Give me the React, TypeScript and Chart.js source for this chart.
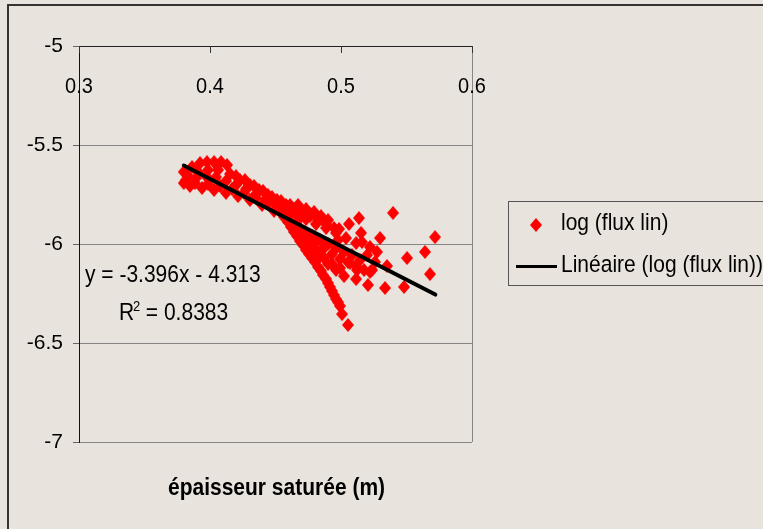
import React, { useEffect, useRef } from "react";
import { Chart, registerables } from "chart.js";

Chart.register(...registerables);

// ---- data ----
const fluxX = [
  // upper edge of the band
  0.380, 0.3863, 0.3924, 0.3977, 0.4031, 0.4084, 0.4130, 0.4198, 0.4267, 0.4336,
  0.4405, 0.4473, 0.4542, 0.4611, 0.4672, 0.4733, 0.4794, 0.4847, 0.4901,
  // second row of the band
  0.3832, 0.3908, 0.3985, 0.4061, 0.4153, 0.4229, 0.4305, 0.4374, 0.4443, 0.4511,
  0.4580, 0.4641, 0.4702, 0.4763, 0.4824, 0.4886, 0.4947,
  // middle of the band
  0.3817, 0.3893, 0.3969, 0.4046, 0.4122, 0.4198, 0.4275, 0.4351, 0.4427, 0.4504,
  0.4580, 0.4656, 0.4733, 0.4809, 0.4886, 0.4962, 0.5038, 0.5115,
  // fourth row of the band
  0.3885, 0.3985, 0.4076, 0.4168, 0.4260, 0.4351, 0.4443, 0.4527, 0.4611, 0.4672,
  // lower edge of the band
  0.380, 0.3847, 0.3939, 0.4031, 0.4122, 0.4214, 0.4305, 0.4397, 0.4489, 0.4565,
  // steep lower branch
  0.4595, 0.4641, 0.4687, 0.4733, 0.4779, 0.4824, 0.4863, 0.4901, 0.4931, 0.4962,
  0.4992, 0.5008, 0.5053,
  0.4618, 0.4664, 0.4710, 0.4756, 0.4802, 0.4847, 0.4886, 0.4916, 0.4947, 0.4977,
  // filling between the branches
  0.4687, 0.4748, 0.4809, 0.4870, 0.4931, 0.4992, 0.5053, 0.5115, 0.5176,
  0.4779, 0.4840, 0.4901, 0.4962, 0.5023,
  0.4718, 0.4779, 0.4840, 0.4901, 0.4962, 0.5023, 0.4733, 0.4809, 0.4870, 0.4931,
  0.4992, 0.4656, 0.4702,
  0.4977, 0.5084, 0.5160, 0.5221, 0.5275, 0.5122, 0.5237,
  // scattered points on the right
  0.5397, 0.5137, 0.5061, 0.4985, 0.5153, 0.5298, 0.5718, 0.5504, 0.5641, 0.5679,
  0.5481, 0.5336, 0.5206, 0.5115, 0.5351, 0.5221, 0.5198, 0.5145, 0.5069, 0.5260,
];
const fluxY = [
  -5.636, -5.611, -5.591, -5.586, -5.586, -5.586, -5.601, -5.657, -5.677, -5.707,
  -5.732, -5.763, -5.783, -5.803, -5.803, -5.823, -5.838, -5.859, -5.879,
  -5.657, -5.636, -5.626, -5.626, -5.646, -5.677, -5.702, -5.727, -5.753, -5.778,
  -5.803, -5.823, -5.838, -5.859, -5.879, -5.899, -5.919,
  -5.677, -5.667, -5.657, -5.662, -5.682, -5.702, -5.722, -5.747, -5.773, -5.798,
  -5.823, -5.848, -5.874, -5.899, -5.919, -5.944, -5.970, -5.995,
  -5.692, -5.697, -5.707, -5.722, -5.742, -5.768, -5.798, -5.828, -5.854, -5.879,
  -5.692, -5.707, -5.717, -5.727, -5.742, -5.758, -5.778, -5.803, -5.833, -5.864,
  -5.889, -5.939, -5.985, -6.030, -6.071, -6.116, -6.157, -6.197, -6.237, -6.278,
  -6.313, -6.354, -6.409,
  -5.914, -5.960, -6.005, -6.051, -6.091, -6.136, -6.177, -6.217, -6.258, -6.293,
  -5.919, -5.955, -5.990, -6.020, -6.051, -6.076, -6.091, -6.111, -6.131,
  -6.005, -6.061, -6.101, -6.131, -6.162,
  -5.939, -5.960, -5.980, -6.000, -6.020, -6.040, -5.980, -6.030, -6.071, -6.101,
  -6.121, -5.909, -5.960,
  -5.980, -6.056, -5.990, -6.015, -6.040, -6.131, -6.131,
  -5.843, -5.869, -5.899, -5.924, -5.944, -5.970, -5.965, -6.071, -6.040, -6.152,
  -6.217, -6.222, -6.207, -6.177, -6.111, -6.141, -6.056, -6.081, -6.096, -6.091,
];
const trendX = [0.38, 0.572];
const trendY = [-5.6035, -6.2555];
const xTicks = [0.3, 0.4, 0.5, 0.6];
const yTicks = [-5, -5.5, -6, -6.5, -7];

const seriesLabel = "log (flux lin)";
const trendLabel = "Linéaire (log (flux lin))";
const equationText = "y = -3.396x - 4.313";
const r2Text = " = 0.8383";
const xTitle = "épaisseur saturée (m)";

const W = 763;
const H = 529;
const BG = "rgb(232,228,221)";
const FONT = "'Liberation Sans', Arial, Helvetica, sans-serif";
const SY = 1.1;

function drawText(
  ctx: CanvasRenderingContext2D,
  text: string,
  x: number,
  y: number,
  font: string,
  align: CanvasTextAlign = "left",
  color = "#000"
) {
  ctx.save();
  ctx.translate(x, y);
  ctx.scale(1, SY);
  ctx.font = font;
  ctx.fillStyle = color;
  ctx.textAlign = align;
  ctx.textBaseline = "alphabetic";
  ctx.fillText(text, 0, 0);
  ctx.restore();
}

function makeDiamond(): HTMLCanvasElement {
  const c = document.createElement("canvas");
  c.width = 12;
  c.height = 14;
  const g = c.getContext("2d")!;
  g.fillStyle = "#FF0000";
  g.beginPath();
  g.moveTo(6, 0);
  g.lineTo(12, 7);
  g.lineTo(6, 14);
  g.lineTo(0, 7);
  g.closePath();
  g.fill();
  return c;
}

export default function App() {
  const ref = useRef<HTMLCanvasElement | null>(null);

  useEffect(() => {
    if (!ref.current) return;
    const diamond = makeDiamond();

    const extras = {
      id: "extras",
      beforeDraw(chart: any) {
        const ctx = chart.ctx;
        ctx.save();
        ctx.fillStyle = BG;
        ctx.fillRect(0, 0, chart.width, chart.height);
        ctx.restore();
      },
      afterDraw(chart: any) {
        const ctx: CanvasRenderingContext2D = chart.ctx;
        const xs = chart.scales.x;
        const top = chart.chartArea.top;
        ctx.save();
        // x tick marks (pointing inside)
        ctx.strokeStyle = "#333";
        ctx.lineWidth = 1;
        xTicks.forEach((v) => {
          const px = Math.round(xs.getPixelForValue(v)) + 0.5;
          ctx.beginPath();
          ctx.moveTo(px, top);
          ctx.lineTo(px, top + 7);
          ctx.stroke();
        });
        // x tick labels below the top axis
        xTicks.forEach((v) => {
          drawText(ctx, v.toFixed(1), xs.getPixelForValue(v), 93, `20px ${FONT}`, "center");
        });
        // trendline equation
        drawText(ctx, equationText, 85, 282, `21px ${FONT}`);
        drawText(ctx, "R", 119, 320, `21px ${FONT}`);
        drawText(ctx, "2", 133, 311, `13px ${FONT}`);
        drawText(ctx, r2Text, 140, 320, `21px ${FONT}`);
        // x axis title
        const cx = (chart.chartArea.left + chart.chartArea.right) / 2;
        drawText(ctx, xTitle, cx + 1, 495, `bold 21px ${FONT}`, "center");
        // legend box
        ctx.strokeStyle = "#555";
        ctx.lineWidth = 1;
        ctx.strokeRect(508.5, 201.5, 300, 84);
        ctx.drawImage(diamond, 536 - 6, 225 - 7);
        drawText(ctx, seriesLabel, 561, 230, `21px ${FONT}`);
        ctx.strokeStyle = "#000";
        ctx.lineWidth = 3;
        ctx.beginPath();
        ctx.moveTo(516, 266.5);
        ctx.lineTo(557, 266.5);
        ctx.stroke();
        drawText(ctx, trendLabel, 561, 272, `21px ${FONT}`);
        // outer frame
        ctx.fillStyle = "#333";
        ctx.fillRect(7, 4, W - 7, 2);
        ctx.fillRect(7, 4, 2, H - 4);
        ctx.restore();
      },
    };

    const points = fluxX.map((x, i) => ({ x, y: fluxY[i] }));
    const trend = trendX.map((x, i) => ({ x, y: trendY[i] }));

    const chart = new Chart(ref.current, {
      type: "scatter",
      data: {
        datasets: [
          {
            type: "line",
            label: trendLabel,
            data: trend,
            borderColor: "#000",
            borderWidth: 4,
            borderCapStyle: "round",
            pointRadius: 0,
            showLine: true,
            fill: false,
            order: 0,
          } as any,
          {
            label: seriesLabel,
            data: points,
            pointStyle: diamond as any,
            pointRadius: 7,
            backgroundColor: "#FF0000",
            borderColor: "#FF0000",
            order: 1,
          },
        ],
      },
      options: {
        animation: false,
        responsive: false,
        devicePixelRatio: 1,
        events: [],
        layout: { padding: { left: 0, top: 46, right: W - 472, bottom: H - 442 } },
        plugins: { legend: { display: false }, tooltip: { enabled: false } },
        scales: {
          x: {
            type: "linear",
            position: "top",
            min: 0.3,
            max: 0.6,
            afterBuildTicks: (s: any) => {
              s.ticks = xTicks.map((v) => ({ value: v }));
            },
            afterFit: (s: any) => {
              s.height = 0;
            },
            ticks: { display: false },
            grid: {
              drawTicks: false,
              color: (c: any) =>
                c.tick && Math.abs(c.tick.value - 0.6) < 1e-6 ? "#868686" : "rgba(0,0,0,0)",
            },
            border: { display: true, color: "#222", width: 1 },
          },
          y: {
            type: "linear",
            position: "left",
            min: -7,
            max: -5,
            afterBuildTicks: (s: any) => {
              s.ticks = yTicks.map((v) => ({ value: v }));
            },
            afterFit: (s: any) => {
              s.width = 79;
            },
            ticks: {
              padding: 10,
              color: "#000",
              font: { family: FONT, size: 21 },
              callback: (v: any) => String(v),
            },
            grid: {
              tickLength: 6,
              tickColor: "#666",
              color: (c: any) =>
                c.tick && Math.abs(c.tick.value + 5) < 1e-6 ? "rgba(0,0,0,0)" : "#868686",
            },
            border: { display: true, color: "#111", width: 1 },
          },
        },
      } as any,
      plugins: [extras],
    });

    return () => chart.destroy();
  }, []);

  return (
    <div
      style={{
        position: "absolute",
        left: 0,
        top: 0,
        width: W,
        height: H,
        background: BG,
      }}
    >
      <canvas ref={ref} width={W} height={H} style={{ display: "block", width: W, height: H }} />
    </div>
  );
}
